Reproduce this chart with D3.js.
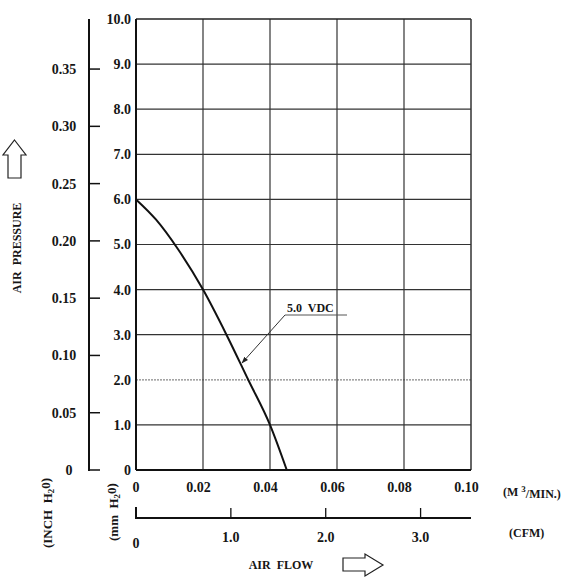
<!DOCTYPE html>
<html><head><meta charset="utf-8">
<script src="https://cdn.jsdelivr.net/npm/d3@7"></script>
<style>
body{margin:0;background:#fff;}
text{font-family:"Liberation Serif","DejaVu Serif",serif;font-weight:bold;fill:#161616;white-space:pre;}
</style></head>
<body><svg id="c" width="578" height="584"></svg>
<script>
// Data
const flowM3 = [0, 0.006, 0.0125, 0.02, 0.027, 0.0335, 0.04, 0.045];
const pressMM = [6.0, 5.55, 4.9, 4.0, 3.0, 2.0, 1.0, 0];
const mmTicks = [0,1,2,3,4,5,6,7,8,9,10];
const mmLabels = ["0","1.0","2.0","3.0","4.0","5.0","6.0","7.0","8.0","9.0","10.0"];
const inchTicks = [0,0.05,0.10,0.15,0.20,0.25,0.30,0.35];
const inchLabels = ["0","0.05","0.10","0.15","0.20","0.25","0.30","0.35"];
const m3Ticks = [0,0.02,0.04,0.06,0.08,0.10];
const m3Labels = ["0","0.02","0.04","0.06","0.08","0.10"];
const cfmTicks = [1,2,3];
const cfmLabels = ["1.0","2.0","3.0"];
const seriesName = "5.0  VDC";

const svg = d3.select("#c");
const L=136, R=471, T=19, B=470;
const x = d3.scaleLinear().domain([0,0.10]).range([L,R]);
const y = d3.scaleLinear().domain([0,10]).range([B,T]);
const yIn = d3.scaleLinear().domain([0,10/25.4]).range([B,T]);
const xCfm = d3.scaleLinear().domain([0,0.10/0.0283168]).range([L,R]);

// grid
const g = svg.append("g");
mmTicks.forEach(v=>{
  if(v===0||v===10) return;
  g.append("line").attr("x1",L).attr("x2",R).attr("y1",y(v)).attr("y2",y(v))
   .attr("stroke", v===2?"#888":"#333").attr("stroke-width",1.2)
   .attr("stroke-dasharray", v===2?"2,1":null);
});
m3Ticks.forEach(v=>{
  if(v===0||v===0.10) return;
  g.append("line").attr("x1",x(v)).attr("x2",x(v)).attr("y1",T).attr("y2",B)
   .attr("stroke","#333").attr("stroke-width",1.2);
});
// frame
g.append("line").attr("x1",L).attr("x2",R).attr("y1",T).attr("y2",T).attr("stroke","#222").attr("stroke-width",1.5);
g.append("line").attr("x1",R).attr("x2",R).attr("y1",T).attr("y2",B).attr("stroke","#333").attr("stroke-width",1.5);
g.append("line").attr("x1",L).attr("x2",L).attr("y1",T).attr("y2",B).attr("stroke","#111").attr("stroke-width",2);
g.append("line").attr("x1",L).attr("x2",R).attr("y1",B).attr("y2",B).attr("stroke","#111").attr("stroke-width",2);

// mm labels
mmTicks.forEach((v,i)=>{
  svg.append("text").attr("x",131).attr("y",y(v)).attr("dy","0.35em")
   .attr("text-anchor","end").attr("font-size",14).text(mmLabels[i]);
});

// inch axis
const ia = svg.append("g");
ia.append("line").attr("x1",89).attr("x2",89).attr("y1",T).attr("y2",B+1).attr("stroke","#111").attr("stroke-width",2);
inchTicks.forEach((v,i)=>{
  ia.append("line").attr("x1",89).attr("x2",100).attr("y1",yIn(v)).attr("y2",yIn(v)).attr("stroke","#111").attr("stroke-width",1.5);
  ia.append("text").attr("x",v===0?69:64).attr("y",yIn(v)).attr("dy","0.35em")
   .attr("text-anchor","middle").attr("font-size",14).text(inchLabels[i]);
});

// m3 labels
m3Ticks.forEach((v,i)=>{
  svg.append("text").attr("x",x(v)-(v===0?0:4.5)).attr("y",487).attr("dy","0.35em")
   .attr("text-anchor","middle").attr("font-size",14).text(m3Labels[i]);
});
const m3t = svg.append("text").attr("x",503).attr("y",492).attr("dy","0.35em").attr("font-size",12);
m3t.append("tspan").text("(M ");
m3t.append("tspan").attr("dy","-0.45em").attr("font-size",9).text("3");
m3t.append("tspan").attr("dy","0.45em").text("/MIN.)");

// CFM axis
const ca = svg.append("g");
ca.append("line").attr("x1",L).attr("x2",R).attr("y1",518).attr("y2",518).attr("stroke","#111").attr("stroke-width",1.8);
ca.append("line").attr("x1",xCfm(0)).attr("x2",xCfm(0)).attr("y1",507).attr("y2",519).attr("stroke","#111").attr("stroke-width",2);
cfmTicks.forEach((v,i)=>{
  ca.append("line").attr("x1",xCfm(v)).attr("x2",xCfm(v)).attr("y1",508).attr("y2",518).attr("stroke","#111").attr("stroke-width",1.3);
  ca.append("text").attr("x",xCfm(v)).attr("y",537).attr("dy","0.35em").attr("text-anchor","middle").attr("font-size",14).text(cfmLabels[i]);
});
ca.append("text").attr("x",xCfm(0)).attr("y",543).attr("dy","0.35em").attr("text-anchor","middle").attr("font-size",14).text("0");
svg.append("text").attr("x",509).attr("y",533).attr("dy","0.35em").attr("font-size",12).text("(CFM)");

// axis titles
svg.append("text").attr("x",281).attr("y",565).attr("dy","0.35em").attr("text-anchor","middle").attr("font-size",12).text("AIR  FLOW");
svg.append("path").attr("d","M343,558 L365,558 L365,554 L383,565 L365,576 L365,571 L343,571 Z")
  .attr("fill","none").attr("stroke","#222").attr("stroke-width",1.2);

svg.append("text").attr("transform","translate(17,248) rotate(-90)").attr("dy","0.35em").attr("text-anchor","middle").attr("font-size",12).text("AIR  PRESSURE");
svg.append("path").attr("d","M14.5,140 L26,155 L21,155 L21,178 L8,178 L8,155 L3,155 Z")
  .attr("fill","none").attr("stroke","#222").attr("stroke-width",1.2);

function unitLabel(cx, cy, pre){
  const t = svg.append("text").attr("transform",`translate(${cx},${cy}) rotate(-90)`).attr("dy","0.35em").attr("text-anchor","middle").attr("font-size",13);
  t.append("tspan").text(pre+"H");
  t.append("tspan").attr("dy","0.3em").attr("font-size",9).text("2");
  t.append("tspan").attr("dy","-0.3em").text("0)");
}
unitLabel(47,513,"(INCH  ");
unitLabel(113,512,"(mm  ");

// curve
const pts = flowM3.map((f,i)=>[f,pressMM[i]]);
svg.append("path").datum(pts)
  .attr("d", d3.line().x(d=>x(d[0])).y(d=>y(d[1])).curve(d3.curveMonotoneX))
  .attr("fill","none").attr("stroke","#111").attr("stroke-width",2);

// annotation
svg.append("defs").append("marker").attr("id","ah").attr("viewBox","0 0 10 10").attr("refX",9).attr("refY",5)
  .attr("markerWidth",7).attr("markerHeight",7).attr("orient","auto")
  .append("path").attr("d","M0,1.5 L10,5 L0,8.5 Z").attr("fill","#222");
svg.append("line").attr("x1",285).attr("y1",315).attr("x2",347).attr("y2",315).attr("stroke","#555").attr("stroke-width",1);
svg.append("line").attr("x1",285).attr("y1",315).attr("x2",242).attr("y2",363).attr("stroke","#333").attr("stroke-width",1).attr("marker-end","url(#ah)");
svg.append("text").attr("x",287).attr("y",308).attr("dy","0.35em").attr("font-size",12).text(seriesName);
</script></body></html>
